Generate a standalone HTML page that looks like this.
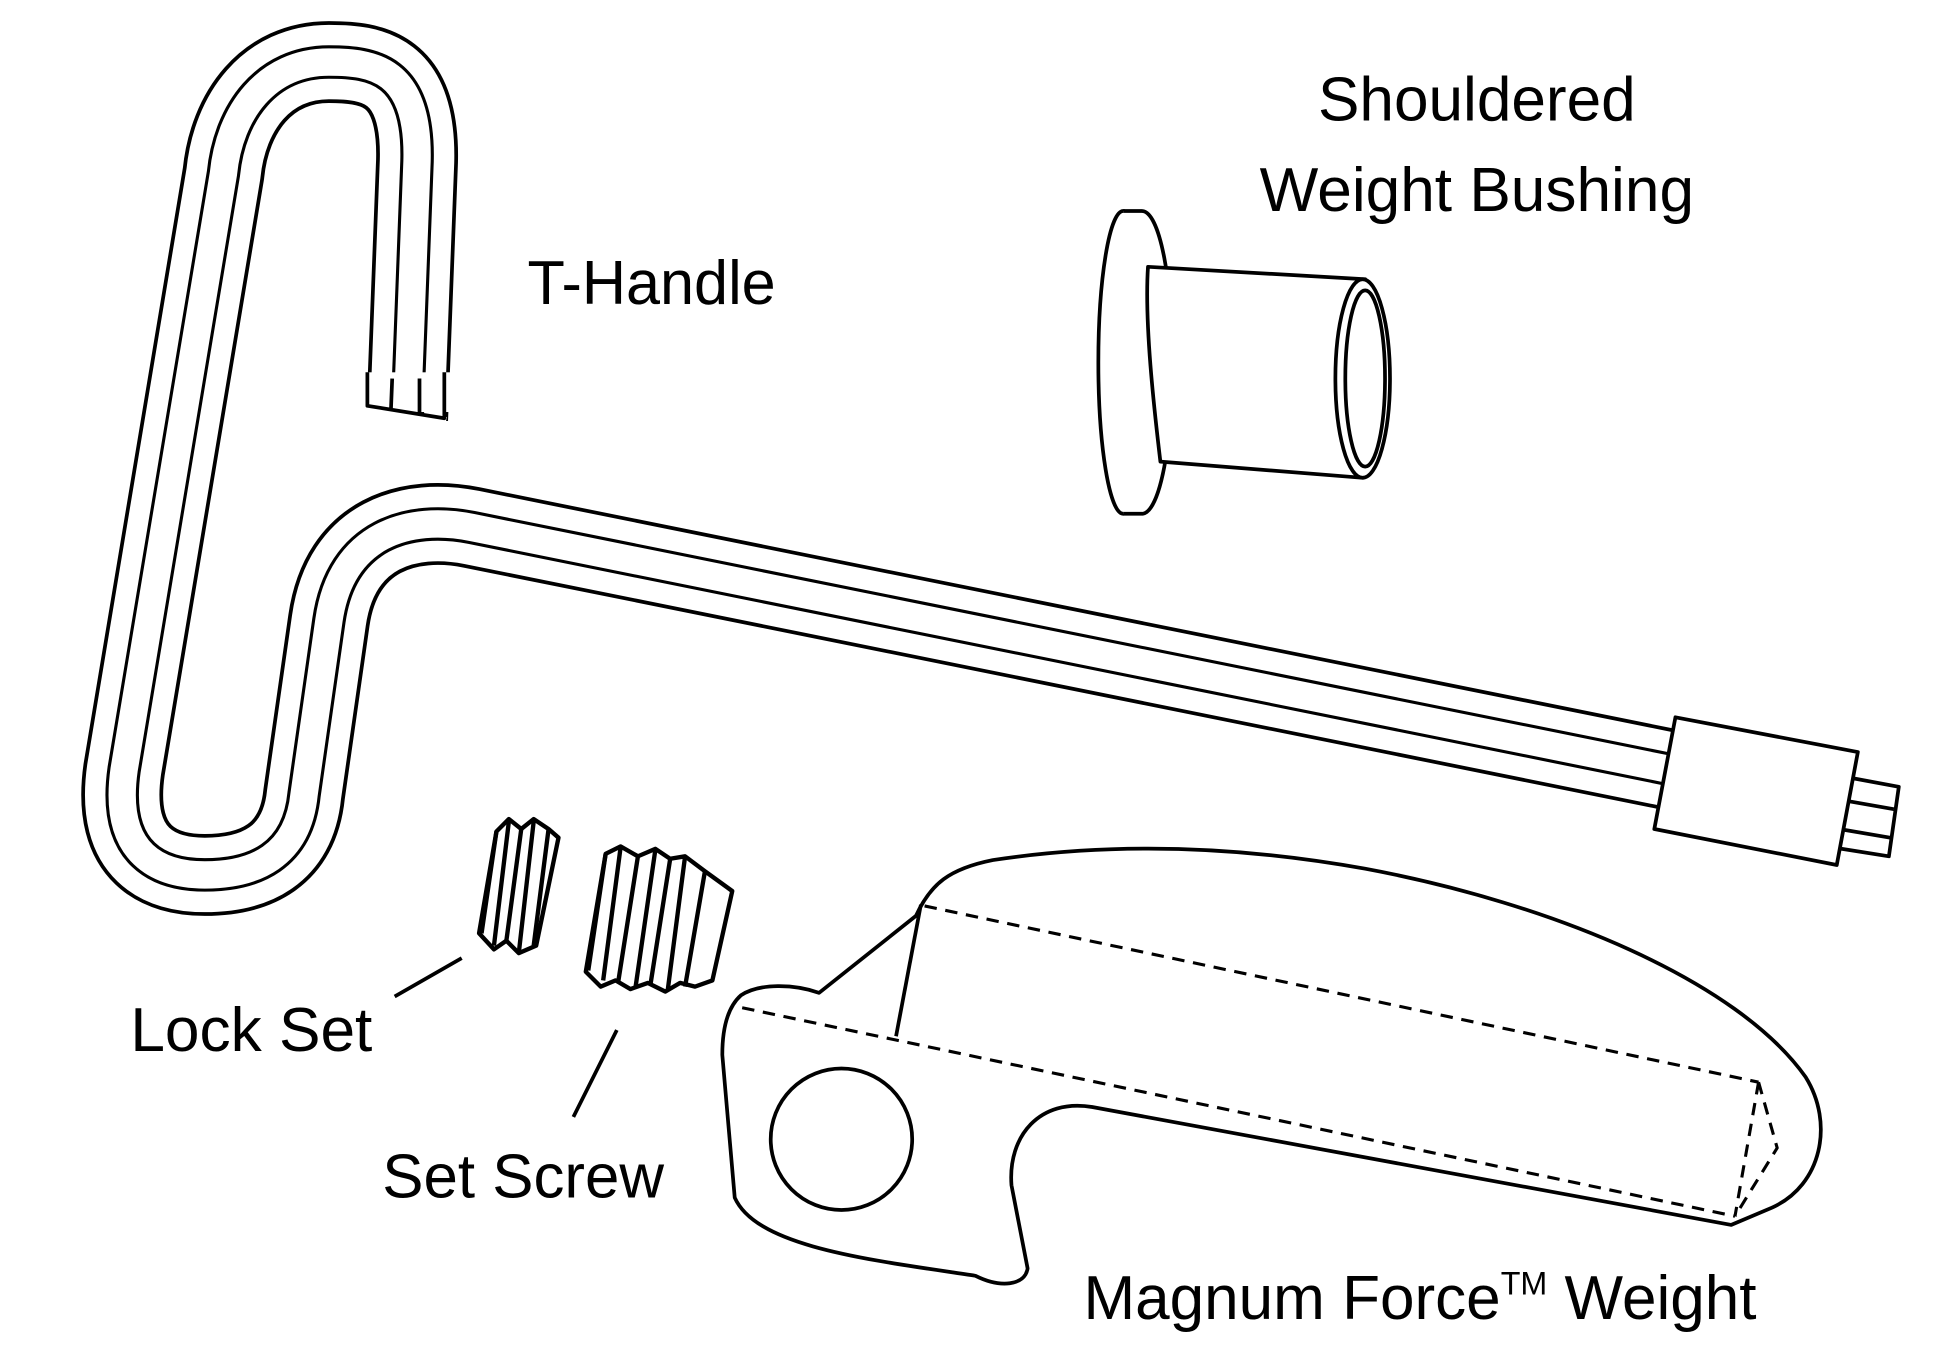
<!DOCTYPE html>
<html><head><meta charset="utf-8"><style>html,body{margin:0;padding:0;background:#fff}svg{display:block}</style></head>
<body>
<svg width="1946" height="1349" viewBox="0 0 1568 1087" xmlns="http://www.w3.org/2000/svg">
<rect width="1568" height="1087" fill="#fff"/>
<g fill="none" stroke-linejoin="round">
<!-- T-handle tube -->
<path d="M 328 338 L 336 130 C 338 55 300 50 265 50 C 215 50 185 90 180 140 L 100 620 C 90 690 130 705 165 705 C 205 705 240 690 245 640 L 265 500 C 275 430 330 415 380 425 L 1345 620" stroke="#000" stroke-width="66"/>
<path d="M 328 338 L 336 130 C 338 55 300 50 265 50 C 215 50 185 90 180 140 L 100 620 C 90 690 130 705 165 705 C 205 705 240 690 245 640 L 265 500 C 275 430 330 415 380 425 L 1345 620" stroke="#fff" stroke-width="60"/>
<path d="M 328 338 L 336 130 C 338 55 300 50 265 50 C 215 50 185 90 180 140 L 100 620 C 90 690 130 705 165 705 C 205 705 240 690 245 640 L 265 500 C 275 430 330 415 380 425 L 1345 620" stroke="#000" stroke-width="27"/>
<path d="M 328 338 L 336 130 C 338 55 300 50 265 50 C 215 50 185 90 180 140 L 100 620 C 90 690 130 705 165 705 C 205 705 240 690 245 640 L 265 500 C 275 430 330 415 380 425 L 1345 620" stroke="#fff" stroke-width="22"/>
<rect x="290" y="300" width="80" height="32" fill="#fff" stroke="none"/>
<polygon points="294,327 360,336 358,346 292,337" fill="#fff" stroke="none"/>
<path d="M296 300 L296 327 L358 337 L358 300 M316 305 L315 330 M338 305 L338 334" stroke="#000" stroke-width="3"/>
<!-- collar and tip -->
<polygon points="1487,626 1530,634 1522,690 1478,683" fill="#fff" stroke="#000" stroke-width="3"/>
<path d="M1486 645 L1526 652 M1482 668 L1523 675" stroke="#000" stroke-width="3"/>
<polygon points="1350,578 1497,606 1480,697 1333,668" fill="#fff" stroke="#000" stroke-width="3"/>
<!-- bushing -->
<ellipse cx="905" cy="292" rx="20" ry="122" fill="#fff" stroke="#000" stroke-width="3"/>
<path d="M905 170 L920 170 C935 170 945 230 945 292 C945 354 935 414 920 414 L905 414" fill="#fff" stroke="#000" stroke-width="3"/>
<path d="M925 215 L1100 225 L1098 385 L935 372 C930 330 922 260 925 215 Z" fill="#fff" stroke="#000" stroke-width="3"/>
<ellipse cx="1098" cy="305" rx="22" ry="80" fill="#fff" stroke="#000" stroke-width="3"/>
<ellipse cx="1100" cy="305" rx="16" ry="71" stroke="#000" stroke-width="3"/>
<!-- lock set -->
<g stroke="#000" stroke-width="3.5" fill="#fff">
<polygon points="400,670 410,660 420,668 430,660 442,668 450,675 432,762 418,768 408,758 398,765 386,752"/>
<path d="M400 670 L388 752 M410 662 L398 762 M420 668 L408 758 M430 662 L418 768 M442 668 L430 762" />
</g>
<!-- set screw -->
<g stroke="#000" stroke-width="3.5" fill="#fff">
<polygon points="488,688 500,682 514,690 528,684 540,692 552,690 568,702 590,718 574,790 560,795 548,792 536,799 522,792 508,797 496,790 484,795 472,783"/>
<path d="M488 688 L474 782 M500 683 L486 790 M514 690 L498 792 M528 685 L512 796 M540 692 L524 794 M552 690 L538 798 M568 702 L552 795"/>
</g>
<!-- leaders -->
<path d="M318 803 L372 772 M462 900 L497 830" stroke="#000" stroke-width="3"/>
<!-- weight -->
<path d="M 597 802 C 612 792 640 793 660 800 L 738 738 C 750 712 765 700 800 693 C 900 678 1000 682 1100 700 C 1250 728 1400 790 1455 868 C 1478 905 1468 955 1428 973 L 1395 987 L 880 892 C 838 885 812 915 815 955 L 828 1022 C 826 1036 806 1038 786 1028 C 700 1015 610 1005 592 965 L 582 850 C 582 825 588 810 597 802 Z" fill="#fff" stroke="#000" stroke-width="3"/>
<circle cx="678" cy="918" r="57" stroke="#000" stroke-width="3"/>
<path d="M742 729 L722 835" stroke="#000" stroke-width="3"/>
<path d="M745 730 L1417 872 M598 812 L1398 980 M1417 872 L1398 980 M1417 872 L1432 925 L1398 980" stroke="#000" stroke-width="2.5" stroke-dasharray="10 7"/>
</g>
<g font-family="'Liberation Sans', sans-serif" font-size="50" fill="#000">
<text x="425" y="245" textLength="200" lengthAdjust="spacingAndGlyphs">T-Handle</text>
<text x="1062" y="97" textLength="256" lengthAdjust="spacingAndGlyphs">Shouldered</text>
<text x="1015" y="170" textLength="350" lengthAdjust="spacingAndGlyphs">Weight Bushing</text>
<text x="105" y="847" textLength="195" lengthAdjust="spacingAndGlyphs">Lock Set</text>
<text x="308" y="965" textLength="227" lengthAdjust="spacingAndGlyphs">Set Screw</text>
<text x="873" y="1063">Magnum Force<tspan font-size="26" dy="-20">TM</tspan><tspan dy="20"> Weight</tspan></text>
</g>
</svg>
</body></html>
